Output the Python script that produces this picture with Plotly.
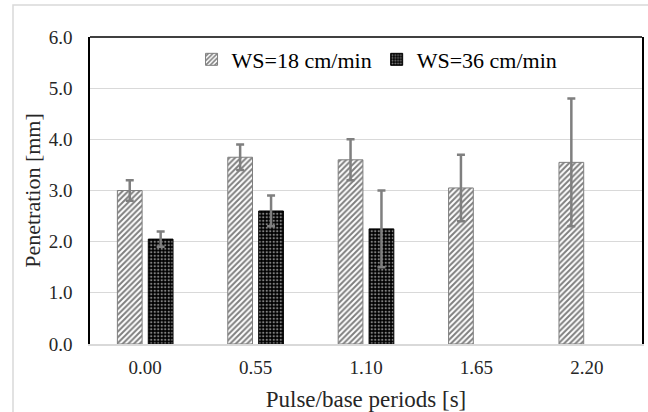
import plotly.graph_objects as go

categories = ["0.00", "0.55", "1.10", "1.65", "2.20"]
ws18_values = [3.00, 3.65, 3.60, 3.05, 3.55]
ws18_errors = [0.20, 0.25, 0.40, 0.65, 1.25]
ws36_values = [2.05, 2.60, 2.25, None, None]
ws36_errors = [0.15, 0.30, 0.75, None, None]
y_ticks = [0, 1, 2, 3, 4, 5, 6]
y_tick_labels = ["0.0", "1.0", "2.0", "3.0", "4.0", "5.0", "6.0"]

font_family = "Liberation Serif"

fig = go.Figure()
fig.add_trace(go.Bar(
    name="WS=18 cm/min", x=categories, y=ws18_values,
    error_y=dict(type="data", array=ws18_errors, color="#7f7f7f", thickness=2.5, width=4),
    marker=dict(color="white", line=dict(color="#7f7f7f", width=1),
                pattern=dict(shape="/", fgcolor="black", bgcolor="white", size=4, solidity=0.5)),
))
fig.add_trace(go.Bar(
    name="WS=36 cm/min", x=categories, y=ws36_values,
    error_y=dict(type="data", array=ws36_errors, color="#7f7f7f", thickness=2.5, width=4),
    marker=dict(color="black", line=dict(color="black", width=1),
                pattern=dict(shape=".", fgcolor="white", bgcolor="black", size=3.5, solidity=0.35)),
))

fig.update_layout(
    width=648, height=412,
    margin=dict(l=90, r=6, t=37, b=68, autoexpand=False),
    paper_bgcolor="white", plot_bgcolor="white",
    barmode="group", bargap=0.44, bargroupgap=0.2,
    font=dict(family=font_family, size=19, color="#262626"),
    showlegend=True,
    legend=dict(orientation="h", x=0.52, y=0.995, xanchor="center", yanchor="top",
                font=dict(family=font_family, size=22, color="black"),
                bgcolor="rgba(0,0,0,0)", itemwidth=30, traceorder="normal"),
    xaxis=dict(
        showline=True, linecolor="#d9d9d9", linewidth=1.5, mirror=False,
        ticks="outside", ticklen=5, tickcolor="rgba(0,0,0,0)", showgrid=False, automargin=False,
        tickfont=dict(family=font_family, size=19, color="#262626"),
        title=dict(text="Pulse/base periods [s]", font=dict(family=font_family, size=23, color="#262626"), standoff=14),
    ),
    yaxis=dict(
        range=[0, 6], tickvals=y_ticks, ticktext=y_tick_labels,
        showline=True, linecolor="black", linewidth=1.5, mirror=True,
        showgrid=True, gridcolor="#d9d9d9", gridwidth=1,
        ticks="outside", ticklen=12, tickcolor="rgba(0,0,0,0)",
        zeroline=False, automargin=False,
        tickfont=dict(family=font_family, size=19, color="#262626"),
        title=dict(text="Penetration [mm]", font=dict(family=font_family, size=22, color="#262626"), standoff=2),
    ),
    shapes=[
        dict(type="line", xref="paper", yref="paper", x0=0, x1=1, y0=1, y1=1,
             line=dict(color="black", width=1.5)),
        dict(type="rect", xref="paper", yref="paper", x0=-0.1395, x1=1.05, y0=-0.3, y1=1.104,
             line=dict(color="#d9d9d9", width=1.5), layer="below"),
    ],
)

fig.write_html("out.html", config={"displayModeBar": False},
               post_script="document.body.style.margin='0';document.body.style.overflow='hidden';")
